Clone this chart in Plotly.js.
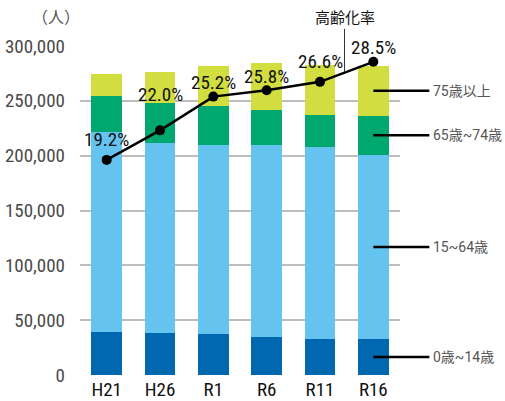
<!DOCTYPE html>
<html><head><meta charset="utf-8">
<script src="https://cdn.plot.ly/plotly-3.0.1.min.js"></script>
<style>html,body{margin:0;padding:0;background:#fff}#chart{width:505px;height:401px}</style>
</head><body><div id="chart"></div>
<script>
// ---- data ----
const years = ['H21', 'H26', 'R1', 'R6', 'R11', 'R16'];
const age0to14 = [39000, 38200, 37300, 34500, 32700, 32700];
const age15to64 = [182800, 173600, 172700, 175500, 175500, 168200];
const age65to74 = [32700, 36400, 35500, 31800, 29100, 35500];
const age75plus = [20000, 28200, 36300, 42700, 45400, 45400];
const agingRate = [19.2, 22.0, 25.2, 25.8, 26.6, 28.5];
const seriesNames = ['0歳~14歳', '15~64歳', '65歳~74歳', '75歳以上'];
const yTickVals = [0, 50000, 100000, 150000, 200000, 250000, 300000];
const yTickText = ['0', '50,000', '100,000', '150,000', '200,000', '250,000', '300,000'];

// ---- style ----
const FONT = '"Roboto Condensed", Roboto, sans-serif';
const CJK = 'Roboto, "Noto Sans CJK JP", sans-serif';
const colors = ['#0067b1', '#64c4ef', '#00a86f', '#d2dd40'];
const labelShift = [20, 36, 14, 14, 20, 14];

const stacks = [age0to14, age15to64, age65to74, age75plus];
const traces = stacks.map((vals, i) => ({
  type: 'bar', x: years, y: vals, name: seriesNames[i],
  marker: {color: colors[i], line: {width: 0}}, hoverinfo: 'none'
}));
traces.push({
  type: 'scatter', mode: 'lines+markers', x: years, y: agingRate, yaxis: 'y2',
  line: {color: '#000', width: 2.5}, marker: {color: '#000', size: 10}, hoverinfo: 'none'
});

const annotations = [];
agingRate.forEach((v, i) => {
  annotations.push({x: years[i], y: v, xref: 'x', yref: 'y2', text: v.toFixed(1) + '%',
    showarrow: false, yanchor: 'middle', yshift: labelShift[i],
    font: {family: FONT, size: 19, color: '#111'}});
});
// right-side labels at mid of last bar segments
const last = years.length - 1;
let cum = 0;
stacks.forEach((vals, i) => {
  const mid = cum + vals[last] / 2;
  cum += vals[last];
  annotations.push({x: years[last], y: mid, xref: 'x', yref: 'y', text: ' ',
    showarrow: true, arrowhead: 0, arrowwidth: 2.5, arrowcolor: '#000', standoff: 0,
    ax: 58, ay: 0, font: {size: 4}});
  annotations.push({x: years[last], y: mid, xref: 'x', yref: 'y', text: seriesNames[i],
    showarrow: false, xanchor: 'left', xshift: 58,
    font: {family: CJK, size: 14, color: '#555'}});
});
annotations.push({x: 4.46, y: 27.55, xref: 'x', yref: 'y2', text: '高齢化率',
  showarrow: true, arrowhead: 0, arrowwidth: 1, arrowcolor: '#333', standoff: 0,
  ax: 0, ay: -55, font: {family: '"Noto Sans CJK JP", sans-serif', size: 15, color: '#111'}});
annotations.push({x: -0.075, y: 1.0, xref: 'paper', yref: 'paper', xanchor: 'center', yanchor: 'bottom', yshift: 16,
  text: '（人）', showarrow: false, font: {family: '"Noto Sans CJK JP", sans-serif', size: 16, color: '#555'}});

const layout = {
  width: 505, height: 401,
  margin: {l: 80, r: 105, t: 46, b: 26, pad: 0},
  paper_bgcolor: '#fff', plot_bgcolor: '#fff',
  barmode: 'stack', bargap: 0.42, showlegend: false,
  xaxis: {type: 'category', categoryorder: 'array', categoryarray: years,
    range: [-0.5, years.length - 0.5], autorange: false,
    showgrid: false, zeroline: false, showline: false, ticks: '', tickangle: 0,
    tickfont: {family: FONT, size: 19, color: '#111'}, ticklabelstandoff: 1},
  yaxis: {range: [0, 300000], autorange: false, tickvals: yTickVals, ticktext: yTickText,
    showgrid: true, gridcolor: '#bdbdbd', gridwidth: 2, zeroline: false, showline: false,
    ticks: '', ticklabelstandoff: 14, tickfont: {family: FONT, size: 19, color: '#4a4a4a'}},
  yaxis2: {range: [-1.2, 30], autorange: false, overlaying: 'y', visible: false},
  annotations: annotations
};
Plotly.newPlot('chart', traces, layout, {displayModeBar: false, staticPlot: true});
</script></body></html>
